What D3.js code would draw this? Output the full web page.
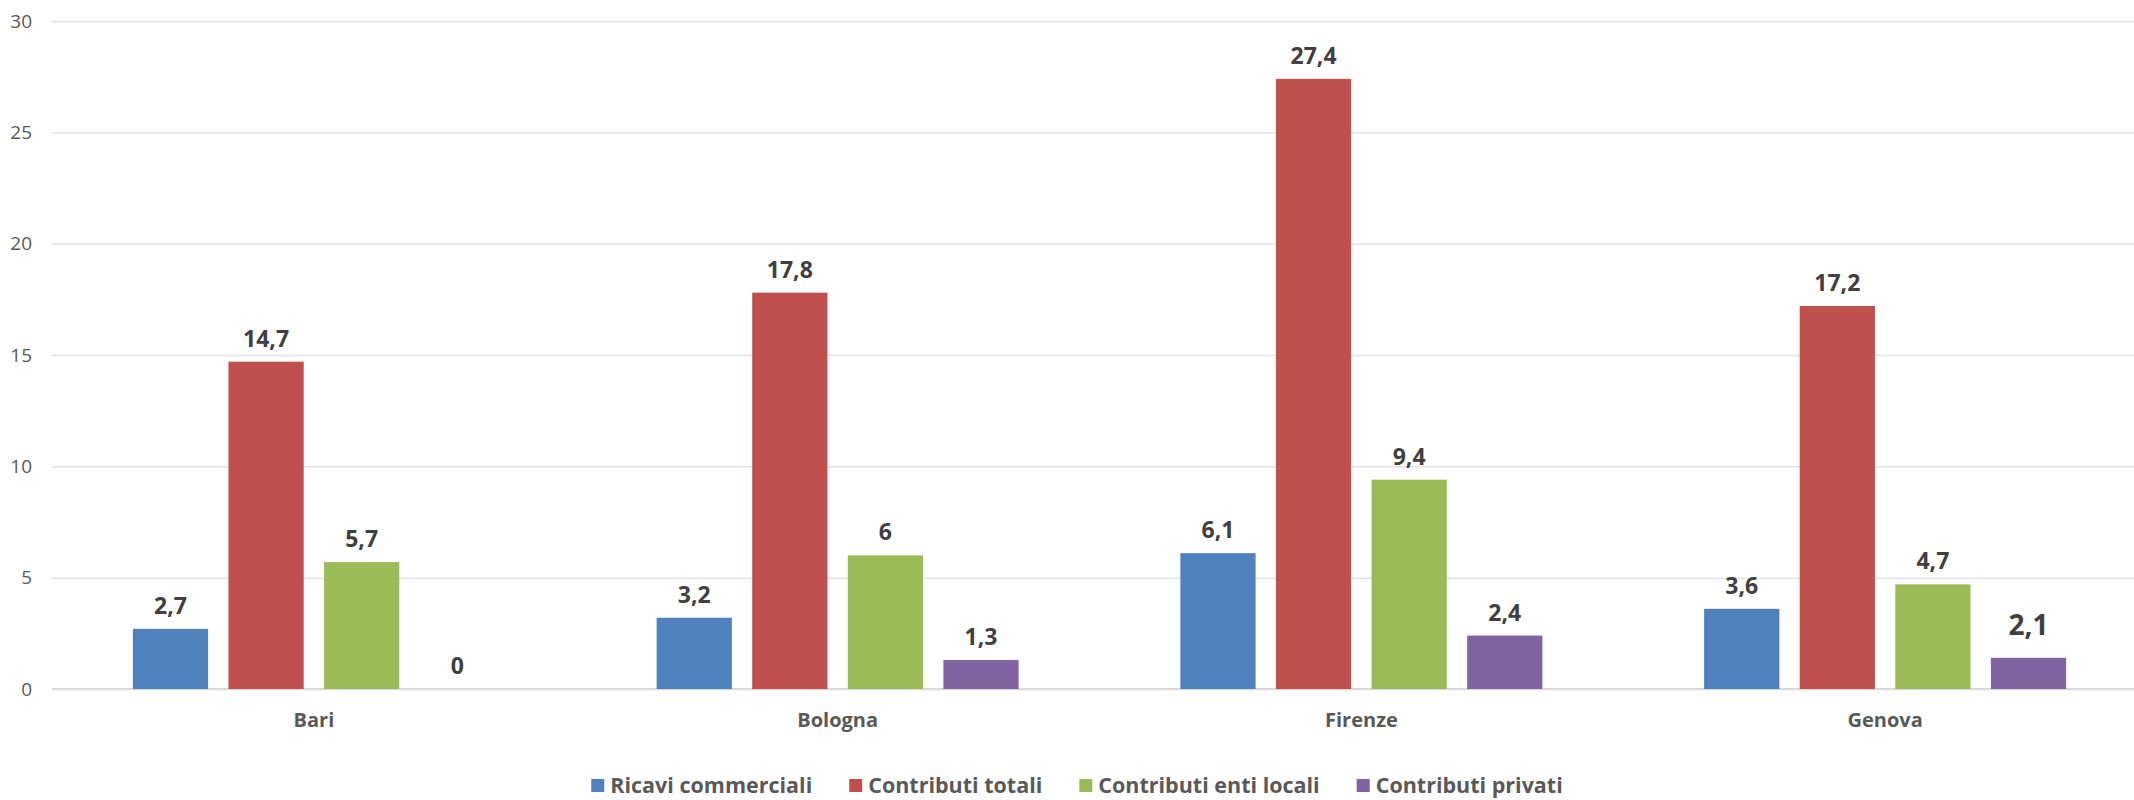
<!DOCTYPE html>
<html>
	<head>
		<meta charset="utf-8">
		<script src="https://cdnjs.cloudflare.com/ajax/libs/d3/7.8.5/d3.min.js"></script>
		<style>
			body { margin: 0; background: #ffffff; }
			svg, svg text { font-family: "Open Sans", sans-serif; }
			svg { display: block; }
		</style>
	</head>

	<body>
		<div id="chart-area"></div>

		<script>
			var cities = ["Bari", "Bologna", "Firenze", "Genova"];
			var seriesNames = ["Ricavi commerciali", "Contributi totali", "Contributi enti locali", "Contributi privati"];
			var ricavi = [2.7, 3.2, 6.1, 3.6];
			var totali = [14.7, 17.8, 27.4, 17.2];
			var entiLocali = [5.7, 6, 9.4, 4.7];
			var privati = [0, 1.3, 2.4, 1.4];
			// the Genova "privati" label in the picture reads 2,1 (typed by hand, larger font)
			var privatiLabels = ["0", "1,3", "2,4", "2,1"];
			var tickValues = [0, 5, 10, 15, 20, 25, 30];
			var colors = ["#4f81bd", "#c0504d", "#9bbb59", "#8064a2"];

			var seriesValues = [ricavi, totali, entiLocali, privati];

			var containerWidth = 2134;
			var containerHeight = 800;

			var plotLeft = 52;
			var plotRight = 2147;
			var plotTop = 21;
			var plotBottom = 689;

			var svg = d3.select("#chart-area")
						.append("svg")
						.attr("width", containerWidth)
						.attr("height", containerHeight);

			var y = d3.scaleLinear()
						.domain([0, 30])
						.range([plotBottom, plotTop]);

			var x0 = d3.scaleBand()
						.domain(cities)
						.range([plotLeft, plotRight])
						.padding(0);

			var x1 = d3.scaleBand()
						.domain(seriesNames)
						.range([0, x0.bandwidth()])
						.paddingInner(0.213)
						.paddingOuter(0.846);

			// gridlines + y labels
			var yAxisCall = d3.axisLeft(y)
								.tickValues(tickValues)
								.tickSize(-(plotRight - plotLeft))
								.tickPadding(20)
								.tickFormat(function(d) { return d; });

			var yAxis = svg.append("g")
				.attr("class", "y-axis")
				.attr("transform", "translate(" + plotLeft + ", 0)")
				.call(yAxisCall);
			yAxis.attr("font-family", null);
			yAxis.select(".domain").remove();
			yAxis.selectAll("line")
				.attr("stroke", "#e3e3e3")
				.attr("stroke-width", 1.5);
			yAxis.selectAll("text")
				.attr("fill", "#595959")
				.attr("font-size", "19px");

			// baseline
			svg.append("line")
				.attr("x1", plotLeft)
				.attr("x2", plotRight)
				.attr("y1", y(0))
				.attr("y2", y(0))
				.attr("stroke", "#d9d9d9")
				.attr("stroke-width", 2);

			// category labels
			var xAxisCall = d3.axisBottom(x0)
								.tickSize(0)
								.tickPadding(24);
			var xAxis = svg.append("g")
				.attr("class", "x-axis")
				.attr("transform", "translate(0, " + plotBottom + ")")
				.call(xAxisCall);
			xAxis.attr("font-family", null);
			xAxis.select(".domain").remove();
			xAxis.selectAll("text")
				.attr("fill", "#595959")
				.attr("font-size", "20px")
				.attr("font-weight", "bold");

			// bars
			var groups = svg.selectAll("g.city")
							.data(cities)
							.enter()
							.append("g")
							.attr("class", "city")
							.attr("transform", function(d) {
								return "translate(" + x0(d) + ", 0)";
							});

			groups.selectAll("rect")
				.data(function(d, i) {
					return seriesNames.map(function(s, j) {
						return { series: s, j: j, i: i, value: seriesValues[j][i] };
					});
				})
				.enter()
				.append("rect")
				.attr("x", function(d) { return x1(d.series); })
				.attr("y", function(d) { return y(d.value); })
				.attr("width", x1.bandwidth())
				.attr("height", function(d) { return y(0) - y(d.value); })
				.attr("fill", function(d) { return colors[d.j]; });

			// value labels
			groups.selectAll("text.value")
				.data(function(d, i) {
					return seriesNames.map(function(s, j) {
						var label = (j == 3) ? privatiLabels[i] : String(seriesValues[j][i]).replace(".", ",");
						return { series: s, j: j, i: i, value: seriesValues[j][i], label: label };
					});
				})
				.enter()
				.append("text")
				.attr("class", "value")
				.attr("x", function(d) { return x1(d.series) + x1.bandwidth() / 2; })
				.attr("y", function(d) {
					var big = (d.j == 3 && d.i == 3);
					return y(d.value) - (big ? 23 : 15);
				})
				.attr("text-anchor", "middle")
				.attr("font-weight", "bold")
				.attr("font-size", function(d) { return (d.j == 3 && d.i == 3) ? "28px" : "23px"; })
				.attr("fill", "#404040")
				.text(function(d) { return d.label; });

			// legend
			var legend = svg.append("g").attr("class", "legend");
			var items = legend.selectAll("g")
							.data(seriesNames)
							.enter()
							.append("g");

			items.append("rect")
				.attr("width", 13)
				.attr("height", 13)
				.attr("y", 779)
				.attr("fill", function(d, i) { return colors[i]; });

			items.append("text")
				.attr("x", 19)
				.attr("y", 793)
				.attr("font-size", "21.5px")
				.attr("font-weight", "bold")
				.attr("fill", "#595959")
				.text(function(d) { return d; });

			var gap = 37;
			var widths = [];
			items.each(function() {
				widths.push(19 + d3.select(this).select("text").node().getComputedTextLength());
			});
			var total = d3.sum(widths) + gap * (widths.length - 1);
			var start = 1077 - total / 2;
			items.attr("transform", function(d, i) {
				var off = start;
				for (var c = 0; c < i; c++) {
					off += widths[c] + gap;
				}
				return "translate(" + off + ", 0)";
			});
		</script>
	</body>
</html>
